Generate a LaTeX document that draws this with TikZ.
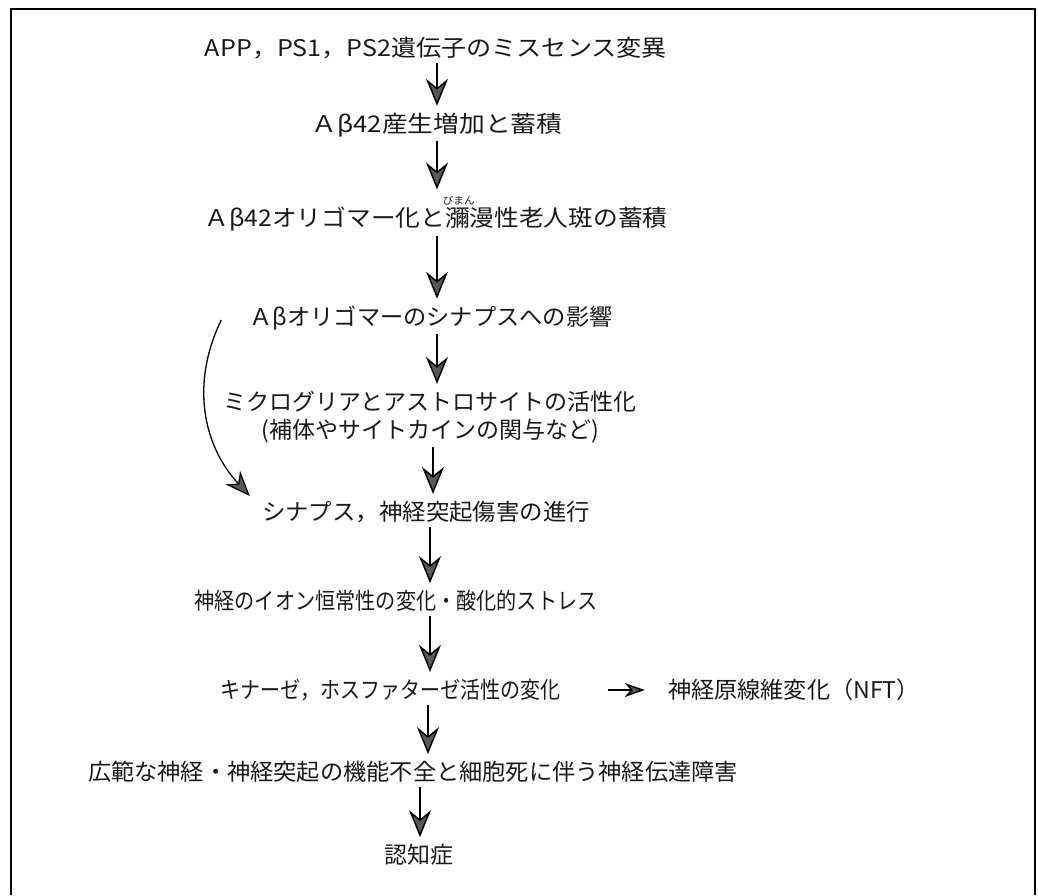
\documentclass[tikz,border=0pt]{standalone}
\usepackage{fontspec}
\usepackage{graphicx}
\setmainfont{Noto Sans CJK JP}
\usetikzlibrary{arrows.meta,calc}
\newcommand\myruby[2]{\leavevmode\rlap{\raisebox{0.95em}{\makebox[1.1em][c]{\fontsize{10}{10}\selectfont #2}}}#1}
\newcommand\fitw[2]{\resizebox{#1}{\height}{#2}}
\begin{document}
\begin{tikzpicture}[x=1pt,y=1pt,
  lbl/.style={inner sep=0pt, font=\fontsize{23}{28}\selectfont, text=black!90},
  arr/.style={line width=1.5pt, shorten <=4pt, shorten >=7pt,
    -{Stealth[length=27pt,width=22pt,inset=9pt,fill=black!65]}},
  curvearr/.style={line width=1.3pt,
    -{Stealth[length=25pt,width=20pt,inset=8pt,fill=black!65]}},
  sidearr/.style={line width=1.5pt,
    -{Stealth[length=20pt,width=14pt,inset=6pt,fill=black!65]}},
  frame/.style={line width=1.8pt}
]
\useasboundingbox (0,0) rectangle (1038,-895);
\draw[frame] (11,-895) -- (11,-9) -- (1035,-9) -- (1035,-895);

\node[lbl] (n1) at (436,-48) {\fitw{462pt}{APP，PS1，PS2遺伝子のミスセンス変異}};
\node[lbl] (n2) at (437,-125) {\fitw{251pt}{Ａβ42産生増加と蓄積}};
\node[lbl] (n3) at (436,-214) {\fitw{463pt}{Ａβ42オリゴマー化と\myruby{瀰漫}{びまん}性老人斑の蓄積}};
\node[lbl] (n4) at (431,-318) {\fitw{363pt}{Ａβオリゴマーのシナプスへの影響}};
\node[lbl, align=center] (n5) at (430,-417) {ミクログリアとアストロサイトの活性化\\(補体やサイトカインの関与など)};
\node[lbl] (n6) at (426,-512) {\fitw{328pt}{シナプス，神経突起傷害の進行}};
\node[lbl] (n7) at (396,-601) {\fitw{403pt}{神経のイオン恒常性の変化・酸化的ストレス}};
\node[lbl] (n8) at (390,-690) {\fitw{340pt}{キナーゼ，ホスファターゼ活性の変化}};
\node[lbl] (nft) at (794,-690) {\fitw{252pt}{神経原線維変化（NFT）}};
\node[lbl] (n9) at (413,-772) {\fitw{650pt}{広範な神経・神経突起の機能不全と細胞死に伴う神経伝達障害}};
\node[lbl] (n10) at (419,-855) {認知症};

\coordinate (c1) at (437,0);
\coordinate (c2) at (437,0);
\coordinate (c3) at (437,0);
\coordinate (c4) at (437,0);
\coordinate (c5) at (433,0);
\coordinate (c6) at (430,0);
\coordinate (c7) at (430,0);
\coordinate (c8) at (428,0);
\coordinate (c9) at (420,0);

\draw[arr] (n1.south -| c1) -- (n2.north -| c1);
\draw[arr] (n2.south -| c2) -- (n3.north -| c2);
\draw[arr] (n3.south -| c3) -- (n4.north -| c3);
\draw[arr] (n4.south -| c4) -- (n5.north -| c4);
\draw[arr] (n5.south -| c5) -- (n6.north -| c5);
\draw[arr] (n6.south -| c6) -- (n7.north -| c6);
\draw[arr] (n7.south -| c7) -- (n8.north -| c7);
\draw[arr] (n8.south -| c8) -- (n9.north -| c8);
\draw[arr] (n9.south -| c9) -- (n10.north -| c9);

\draw[sidearr, shorten <=48pt, shorten >=23pt] (n8.east) -- (nft.west);

\draw[curvearr] ([xshift=-28pt,yshift=-2pt]n4.west) to[out=-116,in=133] ([xshift=-12pt,yshift=5pt]n6.north west);
\end{tikzpicture}
\end{document}
